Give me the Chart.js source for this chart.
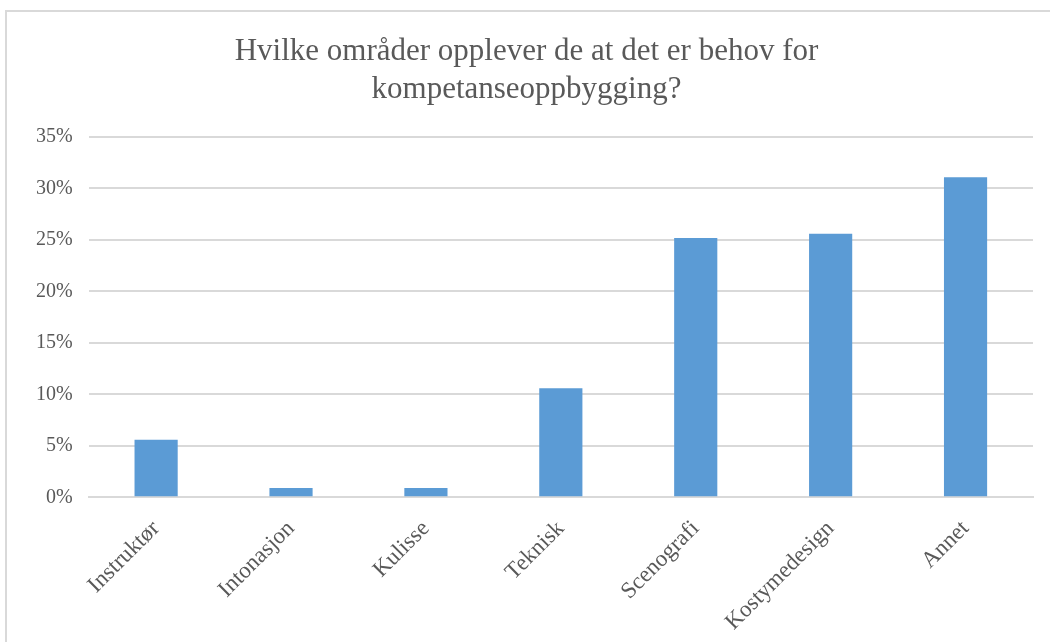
<!DOCTYPE html>
<html>
<head>
<meta charset="utf-8">
<script src="https://cdn.jsdelivr.net/npm/chart.js@4"></script>
<style>
  html, body { margin: 0; padding: 0; background: #fff; overflow: hidden; }
  .frame {
    position: absolute; left: 5px; top: 10px;
    width: 1070px; height: 660px;
    border: 2px solid #d9d9d9; box-sizing: border-box;
  }
  .box { position: absolute; left: 0; top: 0; width: 1040px; height: 642px; }
</style>
</head>
<body>
<div class="frame"><div class="box"><canvas id="c"></canvas></div></div>
<script>
  const categories = ["Instruktør", "Intonasjon", "Kulisse", "Teknisk", "Scenografi", "Kostymedesign", "Annet"];
  const shares = [5.6, 0.9, 0.9, 10.6, 25.2, 25.6, 31.1];
  const titleLines = ["Hvilke områder opplever de at det er behov for", "kompetanseoppbygging?"];

  const FONT = "'Liberation Serif', 'DejaVu Serif', serif";
  const GREY = "#595959";
  const GRID = "#d9d9d9";

  new Chart(document.getElementById("c"), {
    type: "bar",
    data: {
      labels: categories,
      datasets: [{
        data: shares,
        backgroundColor: "#5b9bd5",
        categoryPercentage: 1,
        barPercentage: 0.32,
      }],
    },
    options: {
      responsive: true,
      maintainAspectRatio: false,
      animation: false,
      layout: { padding: { left: 13, right: 14, top: 0, bottom: 0 } },
      plugins: {
        legend: { display: false },
        tooltip: { enabled: false },
        title: {
          display: true,
          text: titleLines,
          color: GREY,
          font: { family: FONT, size: 31, weight: "normal", lineHeight: 1.226 },
          padding: { top: 21, bottom: 28 },
        },
      },
      scales: {
        x: {
          grid: { display: false, drawTicks: false },
          border: { color: GRID, width: 2 },
          ticks: {
            color: GREY,
            font: { family: FONT, size: 23 },
            maxRotation: 45,
            minRotation: 45,
            padding: 18,
          },
        },
        y: {
          min: 0,
          max: 35,
          grid: { color: GRID, lineWidth: 2, drawTicks: false },
          border: { display: false },
          ticks: {
            stepSize: 5,
            color: GREY,
            font: { family: FONT, size: 20 },
            padding: 16,
            callback: (v) => v + "%",
          },
        },
      },
    },
  });
</script>
</body>
</html>
